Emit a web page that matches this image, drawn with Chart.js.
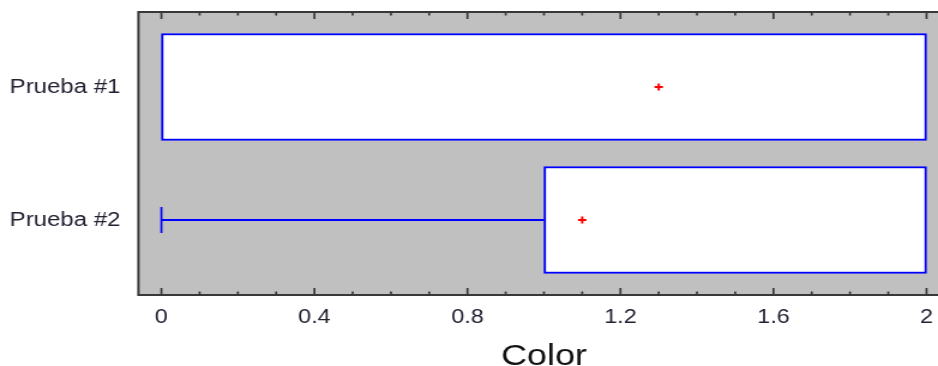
<!DOCTYPE html>
<html><head><meta charset="utf-8">
<script src="https://cdn.jsdelivr.net/npm/chart.js@4.4.0/dist/chart.umd.min.js"></script>
<style>
html,body{margin:0;padding:0;background:#fff;overflow:hidden;}
#wrap{width:782px;height:366px;transform:scaleX(1.19949);transform-origin:0 0;}
canvas{display:block;}
</style></head><body>
<div id="wrap"><canvas id="c" width="782" height="366"></canvas></div>
<script>
// ---- data ----
const categories = ['Prueba #1', 'Prueba #2'];
const q1 = [0, 1];
const q3 = [2, 2];
const whiskerMin = [0, 0];
const whiskerMax = [2, 2];
const means = [1.3, 1.1];
const xTickValues = [0, 0.4, 0.8, 1.2, 1.6, 2];
const xTickLabels = ['0', '0.4', '0.8', '1.2', '1.6', '2'];
const xMinorTicks = [0, 0.1, 0.2, 0.3, 0.4, 0.5, 0.6, 0.7, 0.8, 0.9, 1.0, 1.1, 1.2, 1.3, 1.4, 1.5, 1.6, 1.7, 1.8, 1.9, 2.0];
const axisTitle = 'Color';

const FONT = '"Liberation Sans", Arial, sans-serif';
const BLUE = '#0000ff';
const RED = '#ff0000';

const datasets = [];
datasets.push({
  type: 'bar', indexAxis: 'y',
  data: categories.map((c, i) => ({ y: i + 1, x: [q1[i], q3[i]] })),
  backgroundColor: '#ffffff', borderColor: BLUE, borderWidth: 2, borderSkipped: false,
  barThickness: 107, order: 3
});
categories.forEach((c, i) => {
  const segs = [];
  if (whiskerMin[i] < q1[i]) segs.push([whiskerMin[i], q1[i], whiskerMin[i]]);
  if (whiskerMax[i] > q3[i]) segs.push([q3[i], whiskerMax[i], whiskerMax[i]]);
  segs.forEach(s => {
    datasets.push({
      type: 'line', data: [{ x: s[0], y: i + 1 }, { x: s[1], y: i + 1 }],
      borderColor: BLUE, borderWidth: 2, pointRadius: 0, fill: false, order: 2
    });
    datasets.push({
      type: 'scatter', data: [{ x: s[2], y: i + 1 }],
      pointStyle: 'line', pointRotation: 90, pointRadius: 13,
      borderColor: BLUE, pointBorderColor: BLUE, pointBorderWidth: 1.7, order: 2
    });
  });
});
datasets.push({
  type: 'scatter', data: means.map((m, i) => ({ x: m, y: i + 1 })),
  pointStyle: 'cross', pointRadius: 3.5,
  borderColor: RED, pointBorderColor: RED, pointBorderWidth: 2, order: 1
});

const framePlugin = {
  id: 'frame',
  beforeDatasetsDraw(chart) {
    const { ctx, chartArea: a } = chart;
    ctx.save();
    ctx.fillStyle = '#c0c0c0';
    ctx.fillRect(a.left, a.top, a.right - a.left, a.bottom - a.top);
    ctx.restore();
  },
  afterDatasetsDraw(chart) {
    const { ctx, chartArea: a } = chart;
    const xs = chart.scales.x;
    ctx.save();
    ctx.strokeStyle = '#383838';
    ctx.lineWidth = 2;
    ctx.beginPath();
    ctx.moveTo(a.left, a.top); ctx.lineTo(a.right, a.top);
    ctx.moveTo(a.left, a.bottom); ctx.lineTo(a.right, a.bottom);
    ctx.moveTo(a.left, a.top - 1); ctx.lineTo(a.left, a.bottom + 1);
    ctx.stroke();
    ctx.lineWidth = 1.7;
    ctx.beginPath();
    xMinorTicks.forEach(v => {
      const px = xs.getPixelForValue(v);
      const major = xTickValues.some(t => Math.abs(t - v) < 1e-9);
      const len = major ? 7 : 3.5;
      ctx.moveTo(px, a.top); ctx.lineTo(px, a.top + len);
      ctx.moveTo(px, a.bottom); ctx.lineTo(px, a.bottom - len);
    });
    ctx.stroke();
    ctx.fillStyle = '#111111';
    ctx.font = '30px ' + FONT;
    ctx.textAlign = 'center';
    ctx.textBaseline = 'alphabetic';
    ctx.fillText(axisTitle, xs.getPixelForValue((xTickValues[0] + xTickValues[xTickValues.length - 1]) / 2), 365);
    ctx.restore();
  }
};

const zeroPad = s => { s.paddingTop = 0; s.paddingBottom = 0; s.paddingLeft = 0; s.paddingRight = 0; };

new Chart(document.getElementById('c'), {
  type: 'scatter',
  data: { datasets },
  options: {
    responsive: false,
    animation: false,
    devicePixelRatio: 1,
    events: [],
    layout: { autoPadding: false, padding: { top: 12, left: 0, right: 0, bottom: 0 } },
    plugins: { legend: { display: false }, tooltip: { enabled: false }, title: { display: false } },
    scales: {
      x: {
        type: 'linear', position: 'bottom', min: -0.06, max: 2.03, offset: false,
        afterBuildTicks: s => { s.ticks = xTickValues.map(v => ({ value: v })); },
        afterFit: s => { s.height = 71; zeroPad(s); },
        grid: { display: false, drawTicks: false },
        border: { display: false },
        ticks: {
          autoSkip: false, maxRotation: 0, padding: 11,
          color: '#222233', font: { family: FONT, size: 19.5 },
          callback: v => { const i = xTickValues.findIndex(t => Math.abs(t - v) < 1e-9); return i >= 0 ? xTickLabels[i] : ''; }
        }
      },
      y: {
        type: 'linear', position: 'left', reverse: true, min: 0.436, max: 2.564, offset: false,
        afterBuildTicks: s => { s.ticks = categories.map((c, i) => ({ value: i + 1 })); },
        afterFit: s => { s.width = 115.4; zeroPad(s); },
        grid: { display: false, drawTicks: false },
        border: { display: false },
        ticks: {
          autoSkip: false, padding: 15,
          color: '#222233', font: { family: FONT, size: 20 },
          callback: v => categories[Math.round(v) - 1] || ''
        }
      }
    }
  },
  plugins: [framePlugin]
});
</script>
</body></html>
